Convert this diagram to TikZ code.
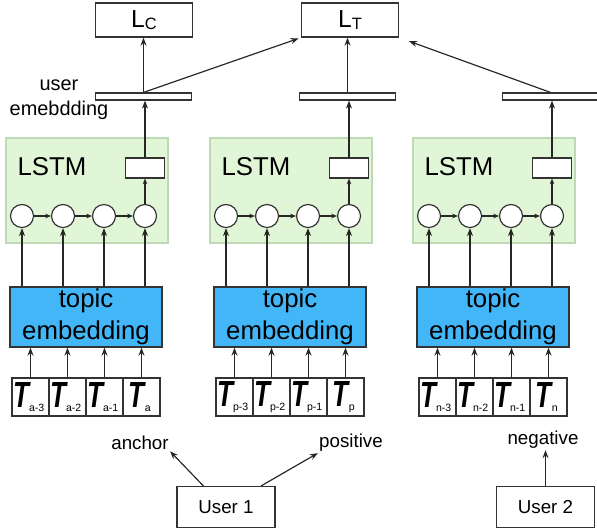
\documentclass[tikz,border=0pt]{standalone}
\usepackage{fontspec}
\setmainfont{Liberation Sans}
\usepackage{graphicx}
\usetikzlibrary{arrows.meta}
\definecolor{lstmgreen}{RGB}{225,246,215}
\definecolor{lstmedge}{RGB}{190,218,180}
\definecolor{topicblue}{RGB}{66,182,247}
\def\tokT#1{\scalebox{0.72}[1]{\fontsize{31}{31}\selectfont\bfseries\itshape T}\raisebox{-4pt}{\fontsize{9}{9}\selectfont #1}\hspace*{3pt}}
\def\lossL#1{L\raisebox{-1.5pt}{\fontsize{14}{14}\selectfont #1}}

\begin{document}
\begin{tikzpicture}[x=0.03cm,y=-0.03cm,
	lossbox/.style={draw=black!80, line width=1.1pt, minimum width=97*0.03cm, minimum height=34*0.03cm, inner sep=0pt, font=\fontsize{21}{21}\selectfont},
	embbar/.style={draw=black!80, line width=1pt, fill=white, minimum width=96*0.03cm, minimum height=7*0.03cm, inner sep=0pt},
	lstmbox/.style={draw=lstmedge, fill=lstmgreen, line width=1pt, minimum width=162*0.03cm, minimum height=105*0.03cm, inner sep=0pt},
	outbox/.style={draw=black!80, fill=white, line width=1pt, minimum width=39*0.03cm, minimum height=20*0.03cm, inner sep=0pt},
	cell/.style={circle, draw=black!80, fill=white, line width=1pt, minimum size=23*0.03cm, inner sep=0pt},
	topicbox/.style={draw=black!80, fill=topicblue, line width=1.1pt, minimum width=152*0.03cm, minimum height=60*0.03cm, align=center, inner sep=0pt, font=\fontsize{22}{27}\selectfont},
	tokbox/.style={draw=black!80, line width=1pt, minimum width=37*0.03cm, minimum height=38*0.03cm, inner sep=0pt},
	userbox/.style={draw=black!80, line width=1pt, minimum width=98*0.03cm, minimum height=41*0.03cm, font=\fontsize{16}{16}\selectfont},
	lbl/.style={font=\fontsize{16}{16}\selectfont, inner sep=1pt},
	arr/.style={-{Stealth[length=2.4mm,width=1.8mm]}, draw=black!85, line width=1pt},
	chainarr/.style={-{Stealth[length=1.7mm,width=1.4mm]}, draw=black!85, line width=1pt}]
	%%%%% START %%%%%
	
	\useasboundingbox (0,0) rectangle (597,531);
	
	% losses
	\node[lossbox] (LC) at (144,20) {\lossL{C}};
	\node[lossbox] (LT) at (350,20) {\lossL{T}};
	
	\node[align=center, font=\fontsize{17}{21}\selectfont, inner sep=0pt] (userlbl) at (59,100) {user\\emebdding};
	
	% one column per user sequence
	\foreach \c/\dx/\s in {A/0/a, P/204/p, N/407/n} {
		\node[embbar] (bar\c) at (\dx+143.5,96.5) {};
		\node[lstmbox] (lstm\c) at (\dx+87,190.5) {};
		\node[font=\fontsize{22}{22}\selectfont, inner sep=0pt] (lstmlbl\c) at (\dx+52,167) {LSTM};
		\node[outbox] (out\c) at (\dx+145,168) {};
		\foreach \i/\x in {1/22, 2/63, 3/104, 4/145}
			\node[cell] (cell\c\i) at (\dx+\x,216) {};
		\node[topicbox] (topic\c) at (\dx+86,317) {topic\\embedding};
		\foreach \i/\x/\sub in {1/30.5/\s-3, 2/67.5/\s-2, 3/104.5/\s-1, 4/141.5/\s}
			\node[tokbox] (tok\c\i) at (\dx+\x,397) {\tokT{\sub}};
		
		\foreach \i in {1,...,4} {
			\draw[arr] (tok\c\i.north) -- (tok\c\i.north |- topic\c.south);
			\draw[arr] (cell\c\i |- topic\c.north) -- (cell\c\i.south);
		}
		\foreach \i/\j in {1/2, 2/3, 3/4}
			\draw[chainarr] (cell\c\i) -- (cell\c\j);
		\draw[chainarr] (cell\c4) -- (out\c);
		\draw[arr] (out\c.north) -- (out\c.north |- bar\c.south);
	}
	
	\draw[arr] (barA.north) -- (barA.north |- LC.south);
	\draw[arr, shorten >=2pt] (barA.north) -- (LT.south west);
	\draw[arr] (barP.north) -- (barP.north |- LT.south);
	\draw[arr, shorten >=9pt] (barN.north) -- (LT.south east);
	
	% users
	\node[lbl] (anchorlbl) at (140,443) {anchor};
	\node[lbl] (poslbl) at (351,443) {positive};
	\node[lbl] (neglbl) at (543,440) {negative};
	
	\node[userbox] (user1) at (226,507) {User 1};
	\node[userbox] (user2) at (545.5,507) {User 2};
	
	\draw[arr] (user1.137) -- (anchorlbl.south east);
	\draw[arr] (user1.31) -- (poslbl.south west);
	\draw[arr] (user2.north) -- (user2.north |- neglbl.south);
	
	%%%%% END %%%%%
\end{tikzpicture}
\end{document}
